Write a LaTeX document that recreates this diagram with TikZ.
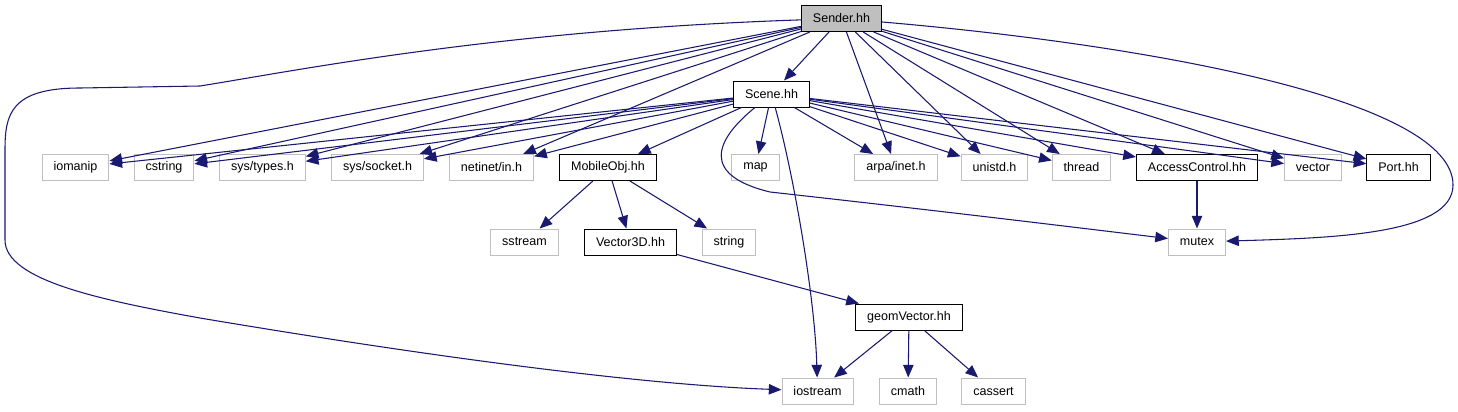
\documentclass[tikz,border=0pt]{standalone}
\usepackage{fontspec}
\setmainfont{Liberation Sans}
\usetikzlibrary{arrows.meta}
\definecolor{linkblue}{HTML}{191970}
\definecolor{boxgrey}{HTML}{BFBFBF}

\begin{document}
\begin{tikzpicture}[x=.75pt,y=-.75pt,
  every node/.style={font=\fontsize{9.4}{11}\selectfont,minimum height=19.5pt,inner xsep=8.6pt,inner ysep=0pt,line width=.75pt},
  sys/.style={draw=boxgrey,fill=white},
  own/.style={draw=black,fill=white},
  dep/.style={draw=linkblue,line width=.8pt,-{Triangle[length=9.5pt,width=7.8pt]}}]
\useasboundingbox (0,0) rectangle (1458,411);
\node[own,fill=boxgrey] (sender) at (841.5,18.5){Sender.hh};
\node[own] (scene) at (771.5,94){Scene.hh};
\node[sys] (iomanip) at (75.5,167.5){iomanip};
\node[sys] (cstring) at (164,167.5){cstring};
\node[sys] (systypes) at (262.5,167.5){sys/types.h};
\node[sys] (syssocket) at (377.5,167.5){sys/socket.h};
\node[sys] (netinet) at (491.5,167.5){netinet/in.h};
\node[own] (mobileobj) at (608,167.5){MobileObj.hh};
\node[sys] (map) at (755.5,167.5){map};
\node[sys] (arpainet) at (896,167.5){arpa/inet.h};
\node[sys] (unistd) at (994.5,167.5){unistd.h};
\node[sys] (thread) at (1081.5,167.5){thread};
\node[own] (access) at (1197,167.5){AccessControl.hh};
\node[sys] (vector) at (1313,167.5){vector};
\node[own] (port) at (1398.5,167.5){Port.hh};
\node[sys] (sstream) at (524.5,242){sstream};
\node[own] (vector3d) at (630.5,242){Vector3D.hh};
\node[sys] (string) at (729,242){string};
\node[sys] (mutex) at (1197,242){mutex};
\node[own] (geomvector) at (909,317){geomVector.hh};
\node[sys] (iostream) at (817.5,391){iostream};
\node[sys] (cmath) at (908,391){cmath};
\node[sys] (cassert) at (993.5,391){cassert};
\foreach \t in {scene,iomanip,cstring,systypes,syssocket,netinet,arpainet,unistd,thread,access,vector,port}{\draw[dep] (sender)--(\t);}
\foreach \t in {iomanip,cstring,systypes,syssocket,netinet,mobileobj,map,arpainet,unistd,thread,access,vector,port}{\draw[dep] (scene)--(\t);}
\foreach \t in {sstream,vector3d,string}{\draw[dep] (mobileobj)--(\t);}
\draw[dep] (vector3d)--(geomvector);
\foreach \t in {iostream,cmath,cassert}{\draw[dep] (geomvector)--(\t);}
\draw[dep] (access)--(mutex);
\draw[dep] (sender) .. controls (500,30) and (300,70) .. (200,86) -- (80,88) .. controls (10,88) and (5,115) .. (5,150) -- (5,240) .. controls (5,280) and (100,300) .. (200,318) .. controls (450,360) and (650,385) .. (iostream);
\draw[dep] (sender) .. controls (1150,45) and (1453,100) .. (1453,185) .. controls (1453,235) and (1330,238) .. (mutex);
\draw[dep] (scene) .. controls (715,140) and (700,175) .. (770,192) .. controls (950,212) and (1080,228) .. (mutex);
\draw[dep] (scene) .. controls (795,180) and (815,300) .. (iostream);
\end{tikzpicture}
\end{document}
